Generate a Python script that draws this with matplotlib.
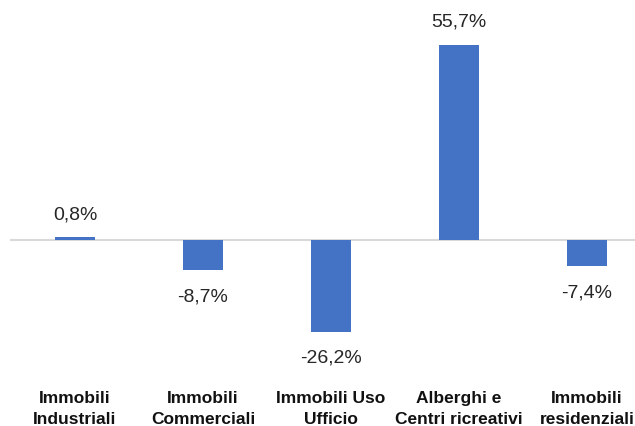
import matplotlib.pyplot as plt

plt.rcParams['font.family'] = ['Liberation Sans', 'DejaVu Sans']

categories = ["Immobili\nIndustriali", "Immobili\nCommerciali", "Immobili Uso\nUfficio",
              "Alberghi e\nCentri ricreativi", "Immobili\nresidenziali"]
values = [0.8, -8.7, -26.2, 55.7, -7.4]
value_labels = ["0,8%", "-8,7%", "-26,2%", "55,7%", "-7,4%"]

fig = plt.figure(figsize=(6.35, 4.27), dpi=100)
ax = fig.add_axes([10 / 635, 57 / 427, 625 / 635, 370 / 427])

x = list(range(len(values)))
ax.bar(x, values, width=0.3125, color='#4472C4', zorder=2)
ax.axhline(0, color='#d9d9d9', linewidth=1.5, zorder=1)

for xi, v, lab in zip(x, values, value_labels):
    off = 17 if v >= 0 else -18.5
    ax.annotate(lab, (xi, v), xytext=(0, off), textcoords='offset points',
                ha='center', va='center', fontsize=14, color='#262626')

ax.set_xlim(-65 / 128, 560 / 128)
ax.set_ylim(-129 / 3.5, 241 / 3.5)
ax.set_xticks(x)
ax.set_xticklabels(categories, fontsize=12.5, fontweight='bold', color='#111111',
                   linespacing=1.55)
ax.tick_params(axis='x', length=0, pad=15)
ax.set_yticks([])
for s in ax.spines.values():
    s.set_visible(False)

fig.savefig("out.png", dpi=100, facecolor='white')
